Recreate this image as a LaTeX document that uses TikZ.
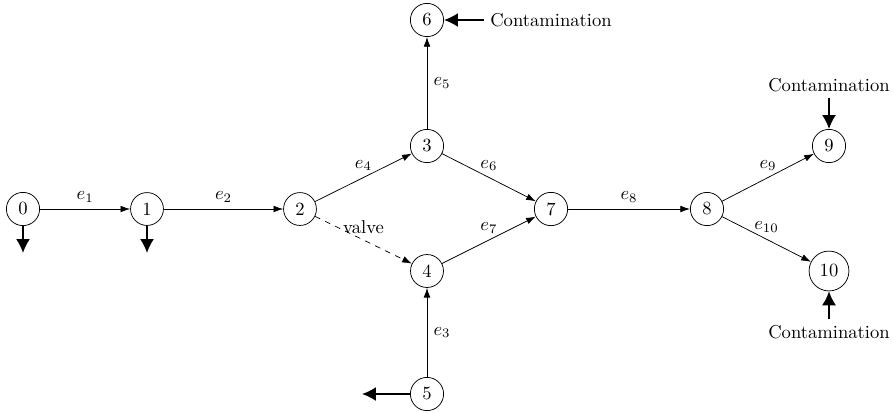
\documentclass[tikz,border=0pt]{standalone}
\usetikzlibrary{arrows.meta}
\begin{document}
\begin{tikzpicture}[x=0.0189cm,y=-0.0189cm,
  vtx/.style={circle,draw,inner sep=0.3333em},
  edge/.style={-{Latex[length=5.2pt,width=3.6pt]}},
  flow/.style={line width=0.9pt,-{Latex[length=7.5pt,width=7.5pt]}},
  lab/.style={font=\normalsize}]
\useasboundingbox (0,0) rectangle (894,412);
\node[vtx] (n0) at (23,209) {0};
\node[vtx] (n1) at (147,209) {1};
\node[vtx] (n2) at (300,209) {2};
\node[vtx] (n3) at (427,146) {3};
\node[vtx] (n4) at (427,271) {4};
\node[vtx] (n5) at (427,394) {5};
\node[vtx] (n6) at (427,20) {6};
\node[vtx] (n7) at (551,209) {7};
\node[vtx] (n8) at (707,209) {8};
\node[vtx] (n9) at (829,146) {9};
\node[vtx] (n10) at (829,271) {10};
\node (c6) at (551,20) {Contamination};
\node (c9) at (829,85) {Contamination};
\node (c10) at (829,332) {Contamination};
\coordinate (o0) at (23,253);
\coordinate (o1) at (147,253);
\coordinate (o5) at (362,394);
\draw[edge] (n0) -- node[above] {$e_1$} (n1);
\draw[edge] (n1) -- node[above] {$e_2$} (n2);
\draw[edge] (n2) -- node[above] {$e_4$} (n3);
\draw[edge,dashed] (n2) -- node[above] {valve} (n4);
\draw[edge] (n5) -- node[right] {$e_3$} (n4);
\draw[edge] (n3) -- node[right] {$e_5$} (n6);
\draw[edge] (n3) -- node[above] {$e_6$} (n7);
\draw[edge] (n4) -- node[above] {$e_7$} (n7);
\draw[edge] (n7) -- node[above] {$e_8$} (n8);
\draw[edge] (n8) -- node[above] {$e_9$} (n9);
\draw[edge] (n8) -- node[above] {$e_{10}$} (n10);
\draw[flow] (n0) -- (o0);
\draw[flow] (n1) -- (o1);
\draw[flow] (n5) -- (o5);
\draw[flow] (c6) -- (n6);
\draw[flow] (c9) -- (n9);
\draw[flow] (c10) -- (n10);
\end{tikzpicture}
\end{document}
